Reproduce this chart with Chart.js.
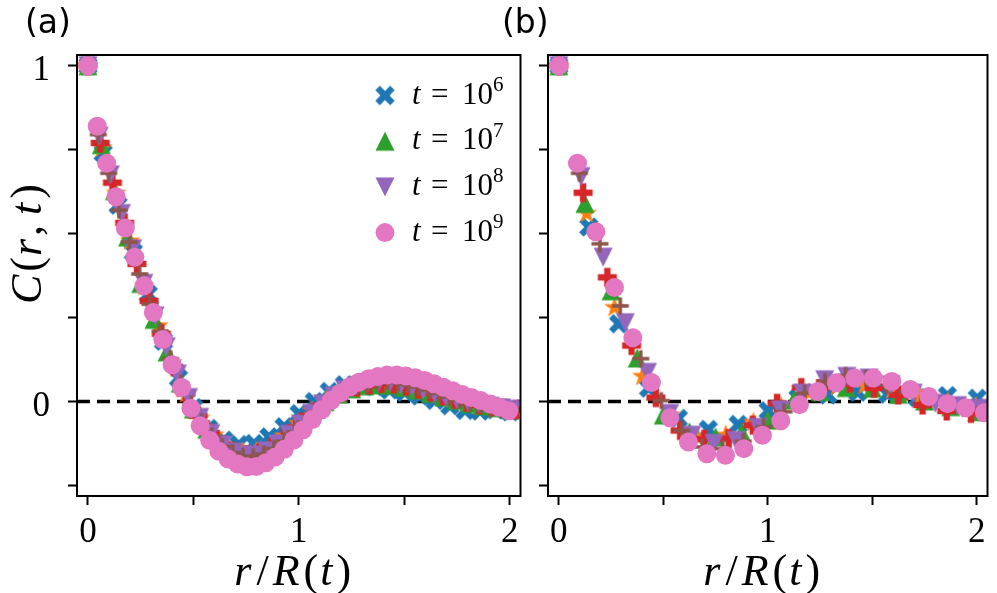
<!DOCTYPE html>
<html>
<head>
<meta charset="utf-8">
<script src="https://cdn.jsdelivr.net/npm/chart.js@4.4.1/dist/chart.umd.min.js"></script>
<style>
  html, body { margin: 0; padding: 0; background: #fff; }
  #wrap { position: relative; width: 997px; height: 593px; overflow: hidden; }
  canvas { position: absolute; top: 0; }
  #chartA { left: 0; }
  #chartB { left: 495px; }
  #texts { position: absolute; left: 0; top: 0; width: 997px; height: 593px; pointer-events: none; }
  .txt { position: absolute; line-height: 1; white-space: nowrap; color: #000; font-family: 'Liberation Serif'; }
</style>
</head>
<body>
<div id="wrap">
  <canvas id="chartA" width="530" height="593"></canvas>
  <canvas id="chartB" width="502" height="593"></canvas>
  <div id="texts"></div>
</div>
<script>
// axes
const xMin = -0.052, xMax = 2.051, yMin = -0.281, yMax = 1.032;
const xTicks = [0, 0.5, 1, 1.5, 2];
const xTickLabels = [0, 1, 2];
const yTicks = [-0.25, 0, 0.25, 0.5, 0.75, 1];
const yTickLabels = [0, 1];
const zeroLineX = [xMin, xMax];
const zeroLineY = [0, 0];

// series (order = drawing order, last on top)
const seriesLabels = ['t = 10^6', 't = 10^6.5', 't = 10^7', 't = 10^7.5', 't = 10^8', 't = 10^8.5', 't = 10^9'];
const seriesColors = ['#1f77b4', '#ff7f0e', '#2ca02c', '#d62728', '#9467bd', '#8c564b', '#e377c2'];
const seriesMarkers = ['X', 'star', 'up', 'P', 'down', 'plus', 'circle'];
const legendSeries = [0, 2, 4, 6];
const legendExps = ['6', '7', '8', '9'];

// panel (a): r/R(t) and C(r,t)
const rA_X = [0, .072, .143, .215, .286, .358, .429, .501, .572, .644, .715, .787, .858, .93, 1.001, 1.073, 1.144, 1.216, 1.287, 1.359, 1.43, 1.502, 1.573, 1.645, 1.716, 1.788, 1.859, 1.931, 2.002];
const cA_X = [1.0, 0.74, 0.585, 0.445, 0.32, 0.18, 0.07, -0.018, -0.08, -0.115, -0.128, -0.125, -0.105, -0.075, -0.036, 0.0, 0.03, 0.05, 0.052, 0.045, 0.035, 0.028, 0.017, 0.004, -0.012, -0.026, -0.028, -0.024, -0.03];
const rA_star = [0, .067, .133, .2, .266, .333, .399, .466, .532, .599, .665, .732, .798, .865, .931, .998, 1.064, 1.131, 1.197, 1.264, 1.33, 1.397, 1.463, 1.53, 1.596, 1.663, 1.729, 1.796, 1.862, 1.929, 1.995];
const cA_star = [1.0, 0.755, 0.62, 0.478, 0.343, 0.225, 0.115, 0.023, -0.05, -0.1, -0.135, -0.15, -0.148, -0.132, -0.103, -0.065, -0.028, 0.004, 0.028, 0.043, 0.05, 0.052, 0.048, 0.042, 0.031, 0.02, 0.008, -0.002, -0.011, -0.017, -0.022];
const rA_up = [0, .063, .125, .188, .25, .313, .375, .438, .5, .563, .625, .688, .75, .813, .875, .938, 1.0, 1.063, 1.125, 1.188, 1.25, 1.313, 1.375, 1.438, 1.5, 1.563, 1.625, 1.688, 1.75, 1.813, 1.875, 1.938, 2.0];
const cA_up = [1.0, 0.765, 0.628, 0.49, 0.352, 0.245, 0.148, 0.055, -0.022, -0.082, -0.124, -0.15, -0.158, -0.152, -0.132, -0.102, -0.066, -0.03, 0.0, 0.023, 0.038, 0.047, 0.05, 0.049, 0.043, 0.035, 0.025, 0.014, 0.004, -0.006, -0.013, -0.018, -0.023];
const rA_P = [0, .058, .116, .174, .232, .29, .348, .406, .464, .522, .58, .638, .696, .754, .812, .87, .928, .986, 1.044, 1.102, 1.16, 1.218, 1.276, 1.334, 1.392, 1.45, 1.508, 1.566, 1.624, 1.682, 1.74, 1.798, 1.856, 1.914, 1.972, 2.03];
const cA_P = [1.0, 0.77, 0.652, 0.532, 0.41, 0.3, 0.202, 0.104, 0.024, -0.042, -0.093, -0.128, -0.149, -0.158, -0.153, -0.135, -0.108, -0.076, -0.042, -0.012, 0.013, 0.031, 0.043, 0.05, 0.054, 0.052, 0.046, 0.037, 0.028, 0.017, 0.007, -0.002, -0.01, -0.015, -0.02, -0.024];
const rA_down = [0, .053, .106, .159, .212, .265, .318, .371, .424, .477, .53, .583, .636, .689, .742, .795, .848, .901, .954, 1.007, 1.06, 1.113, 1.166, 1.219, 1.272, 1.325, 1.378, 1.431, 1.484, 1.537, 1.59, 1.643, 1.696, 1.749, 1.802, 1.855, 1.908, 1.961, 2.014];
const cA_down = [1.0, 0.79, 0.675, 0.56, 0.455, 0.352, 0.255, 0.163, 0.082, 0.012, -0.047, -0.095, -0.129, -0.15, -0.16, -0.159, -0.147, -0.126, -0.098, -0.067, -0.035, -0.007, 0.017, 0.035, 0.047, 0.054, 0.057, 0.056, 0.051, 0.044, 0.035, 0.025, 0.015, 0.006, -0.002, -0.009, -0.014, -0.019, -0.023];
const rA_plus = [0, .049, .098, .147, .196, .245, .294, .343, .392, .441, .49, .539, .588, .637, .686, .735, .784, .833, .882, .931, .98, 1.029, 1.078, 1.127, 1.176, 1.225, 1.274, 1.323, 1.372, 1.421, 1.47, 1.519, 1.568, 1.617, 1.666, 1.715, 1.764, 1.813, 1.862, 1.911, 1.96, 2.009];
const cA_plus = [1.0, 0.795, 0.68, 0.57, 0.475, 0.38, 0.29, 0.21, 0.128, 0.055, -0.008, -0.06, -0.102, -0.133, -0.152, -0.163, -0.164, -0.156, -0.14, -0.117, -0.09, -0.061, -0.032, -0.006, 0.017, 0.035, 0.048, 0.056, 0.06, 0.06, 0.057, 0.051, 0.043, 0.034, 0.024, 0.014, 0.005, -0.003, -0.01, -0.016, -0.021, -0.025];
const rA_o = [0, .044, .089, .133, .177, .222, .266, .31, .355, .399, .444, .488, .532, .577, .621, .665, .71, .754, .798, .843, .887, .931, .976, 1.02, 1.064, 1.109, 1.153, 1.197, 1.242, 1.286, 1.331, 1.375, 1.419, 1.464, 1.508, 1.552, 1.597, 1.641, 1.685, 1.73, 1.774, 1.818, 1.863, 1.907, 1.951, 1.996];
const cA_o = [1.0, 0.82, 0.71, 0.61, 0.517, 0.43, 0.345, 0.265, 0.185, 0.11, 0.042, -0.02, -0.072, -0.115, -0.148, -0.171, -0.186, -0.194, -0.193, -0.182, -0.165, -0.142, -0.114, -0.084, -0.053, -0.024, 0.003, 0.026, 0.044, 0.058, 0.068, 0.075, 0.079, 0.079, 0.076, 0.071, 0.063, 0.053, 0.043, 0.032, 0.021, 0.012, 0.003, -0.007, -0.017, -0.027];

// panel (b)
const rB_X = [0, .143, .286, .429, .572, .715, .858, 1.001, 1.144, 1.287, 1.43, 1.573, 1.716, 1.859, 2.002];
const cB_X = [1.0, 0.52, 0.232, 0.04, -0.05, -0.083, -0.068, -0.027, 0.01, 0.02, 0.028, 0.022, 0.012, 0.018, 0.01];
const rB_star = [0, .133, .266, .399, .532, .665, .798, .931, 1.064, 1.197, 1.33, 1.463, 1.596, 1.729, 1.862, 1.995];
const cB_star = [1.0, 0.56, 0.28, 0.075, -0.04, -0.107, -0.1, -0.062, -0.015, 0.025, 0.045, 0.048, 0.035, 0.015, -0.002, -0.015];
const rB_up = [0, .125, .25, .375, .5, .625, .75, .875, 1.0, 1.125, 1.25, 1.375, 1.5, 1.625, 1.75, 1.875, 2.0];
const cB_up = [1.0, 0.59, 0.33, 0.13, -0.04, -0.09, -0.105, -0.092, -0.055, 0.005, 0.03, 0.042, 0.04, 0.022, 0.002, -0.015, -0.03];
const rB_P = [0, .116, .232, .348, .464, .58, .696, .812, .928, 1.044, 1.16, 1.276, 1.392, 1.508, 1.624, 1.74, 1.856, 1.972];
const cB_P = [1.0, 0.622, 0.37, 0.167, 0.012, -0.086, -0.112, -0.11, -0.07, -0.005, 0.042, 0.058, 0.055, 0.04, 0.02, -0.01, -0.028, -0.035];
const rB_down = [0, .106, .212, .318, .424, .53, .636, .742, .848, .954, 1.06, 1.166, 1.272, 1.378, 1.484, 1.59, 1.696, 1.802, 1.908, 2.014];
const cB_down = [1.0, 0.67, 0.43, 0.235, 0.087, -0.035, -0.1, -0.125, -0.116, -0.077, -0.025, 0.025, 0.065, 0.075, 0.07, 0.05, 0.025, -0.005, -0.012, -0.02];
const rB_plus = [0, .098, .196, .294, .392, .49, .588, .686, .784, .882, .98, 1.078, 1.176, 1.274, 1.372, 1.47, 1.568, 1.666, 1.764, 1.862, 1.96];
const cB_plus = [1.0, 0.68, 0.47, 0.285, 0.128, 0.003, -0.086, -0.135, -0.14, -0.118, -0.075, -0.03, 0.025, 0.06, 0.078, 0.07, 0.05, 0.028, 0.01, -0.008, -0.02];
const rB_o = [0, .089, .177, .266, .354, .443, .531, .62, .708, .797, .885, .974, 1.062, 1.151, 1.239, 1.328, 1.416, 1.505, 1.593, 1.682, 1.77, 1.859, 1.947, 2.036];
const cB_o = [1.0, 0.71, 0.506, 0.34, 0.19, 0.057, -0.048, -0.12, -0.155, -0.16, -0.14, -0.1, -0.057, -0.009, 0.03, 0.056, 0.07, 0.07, 0.06, 0.036, 0.015, -0.006, -0.018, -0.033];

// matplotlib-like marker images
function markerImg(kind, color) {
  const s = 24, c = document.createElement('canvas');
  c.width = s; c.height = s;
  const g = c.getContext('2d');
  g.translate(s / 2, s / 2);
  g.fillStyle = color; g.strokeStyle = color;
  if (kind === 'X' || kind === 'P') {
    if (kind === 'X') g.rotate(Math.PI / 4);
    const L = kind === 'X' ? 10.5 : 9.5, w = 3.2;
    g.fillRect(-L, -w, 2 * L, 2 * w);
    g.fillRect(-w, -L, 2 * w, 2 * L);
  } else if (kind === 'star') {
    g.beginPath();
    for (let i = 0; i < 10; i++) {
      const rr = i % 2 ? 4.2 : 11, a = -Math.PI / 2 + i * Math.PI / 5;
      g.lineTo(rr * Math.cos(a), rr * Math.sin(a));
    }
    g.closePath(); g.fill();
  } else if (kind === 'up' || kind === 'down') {
    const k = kind === 'up' ? 1 : -1, h = 9.5;
    g.beginPath(); g.moveTo(0, -h * k); g.lineTo(h, h * k); g.lineTo(-h, h * k); g.closePath(); g.fill();
  } else if (kind === 'plus') {
    g.lineWidth = 3.5;
    g.beginPath(); g.moveTo(-8.5, 0); g.lineTo(8.5, 0); g.moveTo(0, -8.5); g.lineTo(0, 8.5); g.stroke();
  }
  return c;
}
const markerStyles = seriesMarkers.map((m, i) => m === 'circle' ? 'circle' : markerImg(m, seriesColors[i]));

const framePlugin = {
  id: 'frame',
  afterDatasetsDraw(chart) {
    const a = chart.chartArea, ctx = chart.ctx;
    ctx.save();
    ctx.strokeStyle = '#000'; ctx.lineWidth = 2;
    ctx.strokeRect(a.left, a.top, a.right - a.left, a.bottom - a.top);
    ctx.restore();
  }
};

// legend symbols (panel a)
const legendRowY = k => 40.5 + k * 45.7;
const legendMarkerPlugin = {
  id: 'legendMarkers',
  afterDraw(chart) {
    if (!chart.options.plugins.legendMarkers.show) return;
    const a = chart.chartArea, ctx = chart.ctx;
    ctx.save();
    legendSeries.forEach((si, k) => {
      const mx = a.left + 308, my = a.top + legendRowY(k);
      const st = markerStyles[si];
      if (st === 'circle') {
        ctx.fillStyle = seriesColors[si];
        ctx.beginPath(); ctx.arc(mx, my, 9.5, 0, Math.PI * 2); ctx.fill();
      } else {
        ctx.drawImage(st, mx - st.width / 2, my - st.height / 2);
      }
    });
    ctx.restore();
  }
};

function makeChart(id, rList, cList, cfg) {
  const datasets = rList.map((r, i) => ({
    label: seriesLabels[i],
    data: r.map((x, j) => ({x: x, y: cList[i][j]})),
    pointStyle: markerStyles[i],
    pointRadius: 9.5,
    pointHoverRadius: 9.5,
    pointBackgroundColor: seriesColors[i],
    pointBorderWidth: 0,
    borderColor: seriesColors[i],
    showLine: false,
    order: 7 - i
  }));
  datasets.push({
    label: 'C = 0',
    data: zeroLineX.map((x, j) => ({x: x, y: zeroLineY[j]})),
    showLine: true, borderColor: '#000', borderWidth: 3.5, borderDash: [13, 7],
    pointRadius: 0, order: 20
  });
  const grid = {drawOnChartArea: false, drawTicks: true, tickLength: 9, tickWidth: 2, tickColor: '#000'};
  return new Chart(document.getElementById(id), {
    type: 'scatter',
    data: {datasets: datasets},
    options: {
      responsive: false,
      animation: false,
      devicePixelRatio: 1,
      layout: {padding: {top: 55, right: cfg.padRight, left: 0, bottom: 0}},
      plugins: {
        legend: {display: false},
        tooltip: {enabled: false},
        legendMarkers: {show: cfg.legend}
      },
      scales: {
        x: {
          type: 'linear', min: xMin, max: xMax,
          afterBuildTicks: s => { s.ticks = xTicks.map(v => ({value: v})); },
          afterFit: s => { s.height = 97; },
          ticks: {autoSkip: false, maxRotation: 0, callback: () => ''},
          grid: grid,
          border: {display: false}
        },
        y: {
          type: 'linear', min: yMin, max: yMax,
          afterBuildTicks: s => { s.ticks = yTicks.map(v => ({value: v})); },
          afterFit: s => { s.width = cfg.yWidth; },
          ticks: {autoSkip: false, callback: () => ''},
          grid: grid,
          border: {display: false}
        }
      }
    },
    plugins: [framePlugin, legendMarkerPlugin]
  });
}

// text layer (tick labels, titles, legend text, panel labels)
const layer = document.getElementById('texts');
const BASE_SERIF = 0.8375, BASE_SANS = 0.846;
function placeText(runs, x, y, size, opts) {
  opts = opts || {};
  const el = document.createElement('div');
  el.className = 'txt';
  el.style.fontSize = size + 'px';
  if (opts.family) el.style.fontFamily = opts.family;
  runs.forEach(r => {
    const s = document.createElement('span');
    s.textContent = r.t;
    if (r.it) s.style.fontStyle = 'italic';
    if (r.gap) s.style.marginRight = r.gap + 'px';
    el.appendChild(s);
  });
  const b = (opts.base || BASE_SERIF) * size;
  el.style.left = x + 'px';
  if (opts.rotate) {
    el.style.top = y + 'px';
    el.style.transformOrigin = '0 0';
    el.style.transform = 'rotate(-90deg) translate(-50%, ' + (-b) + 'px)';
  } else {
    el.style.top = (y - b) + 'px';
    if (opts.align === 'center') el.style.transform = 'translateX(-50%)';
    if (opts.align === 'right') el.style.transform = 'translateX(-100%)';
  }
  layer.appendChild(el);
}

const TS = 44;
const xTitleRuns = [{t: 'r', it: 1, gap: 5}, {t: '/', gap: 4}, {t: 'R', it: 1, gap: 4}, {t: '(', gap: 2}, {t: 't', it: 1, gap: 4}, {t: ')'}];
const yTitleRuns = [{t: 'C', it: 1, gap: 3}, {t: '(', gap: 1}, {t: 'r', it: 1, gap: 3}, {t: ',', gap: 10}, {t: 't', it: 1, gap: 4}, {t: ')'}];

function addTexts(chart, offsetX, cfg) {
  const a = chart.chartArea, sx = chart.scales.x, sy = chart.scales.y;
  xTickLabels.forEach(v => placeText([{t: String(v)}], offsetX + sx.getPixelForValue(v), 542, 35, {align: 'center'}));
  if (cfg.yLabels) {
    yTickLabels.forEach(v => placeText([{t: String(v)}], offsetX + a.left - 27, sy.getPixelForValue(v) + 15, 35, {align: 'right'}));
  }
  placeText(xTitleRuns, offsetX + (a.left + a.right) / 2 - 6, 586, TS, {align: 'center'});
  if (cfg.yTitle) placeText(yTitleRuns, 42, 244, TS, {rotate: true});
  placeText([{t: cfg.panel}], cfg.panelX, 33, 33, {family: "'DejaVu Sans'", base: BASE_SANS});
  if (cfg.legend) {
    legendSeries.forEach((si, k) => {
      const mx = offsetX + a.left + 308, my = a.top + legendRowY(k);
      placeText([{t: 't', it: 1}], mx + 27, my + 8, 31);
      placeText([{t: '='}], mx + 46, my + 8, 31);
      placeText([{t: '10'}], mx + 77, my + 8, 31);
      placeText([{t: legendExps[k]}], mx + 108, my - 4, 21);
    });
  }
}

const cfgA = {yWidth: 77, padRight: 6, yLabels: true, yTitle: true, legend: true, panel: '(a)', panelX: 25};
const cfgB = {yWidth: 53, padRight: 2, yLabels: false, yTitle: false, legend: false, panel: '(b)', panelX: 502};
const chartA = makeChart('chartA',
  [rA_X, rA_star, rA_up, rA_P, rA_down, rA_plus, rA_o],
  [cA_X, cA_star, cA_up, cA_P, cA_down, cA_plus, cA_o], cfgA);
const chartB = makeChart('chartB',
  [rB_X, rB_star, rB_up, rB_P, rB_down, rB_plus, rB_o],
  [cB_X, cB_star, cB_up, cB_P, cB_down, cB_plus, cB_o], cfgB);
addTexts(chartA, 0, cfgA);
addTexts(chartB, 495, cfgB);
</script>
</body>
</html>
